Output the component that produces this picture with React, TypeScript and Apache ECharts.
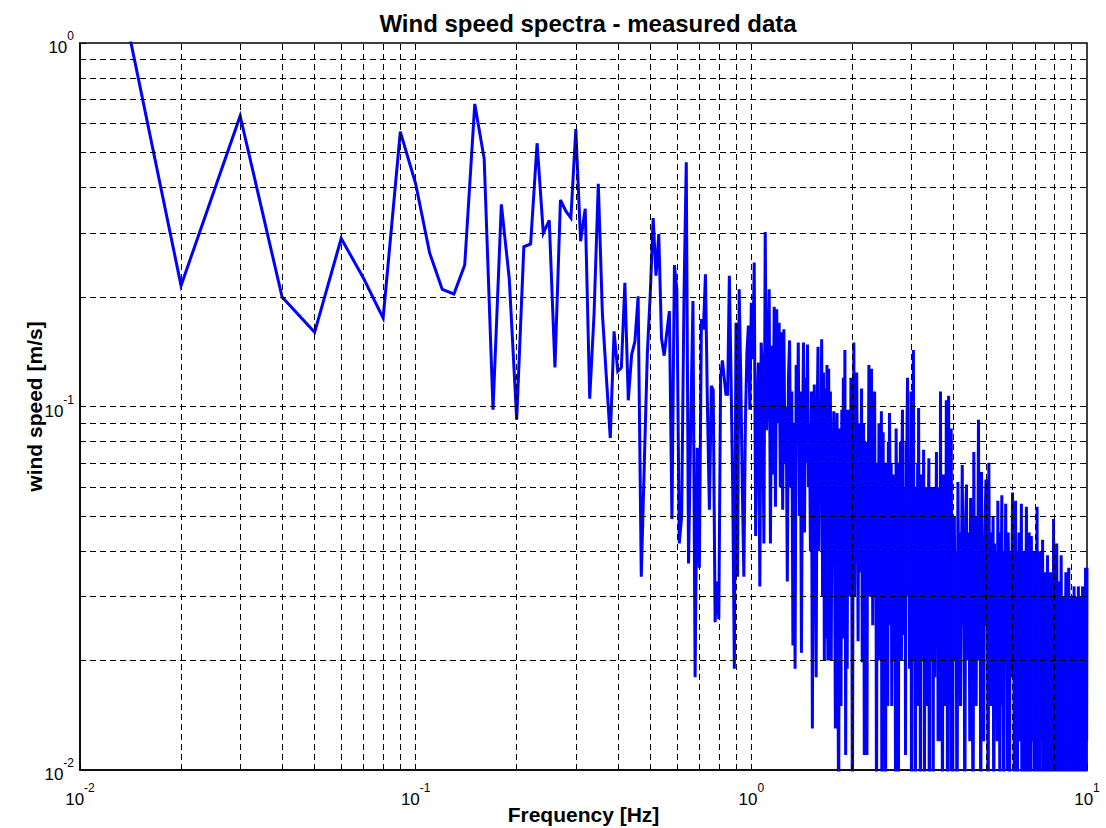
import React, { useEffect, useRef } from "react";
import * as echarts from "echarts";

const titleText = "Wind speed spectra - measured data";
const xName = "Frequency [Hz]";
const yName = "wind speed [m/s]";

// Spectrum bins 0.01 .. 2.00 Hz (step 0.01)
const lowStart = 0.01;
const lowStep = 0.01;
const lowValues = [
  4.8, 0.215, 0.63, 0.2, 0.16, 0.29, 0.225, 0.175, 0.57, 0.41,
  0.265, 0.21, 0.204, 0.245, 0.68, 0.48, 0.098, 0.36, 0.225, 0.092,
  0.275, 0.28, 0.53, 0.3, 0.325, 0.128, 0.37, 0.345, 0.33, 0.58,
  0.285, 0.35, 0.105, 0.18, 0.41, 0.18, 0.12, 0.082, 0.161, 0.125,
  0.128, 0.219, 0.104, 0.139, 0.151, 0.201, 0.034, 0.07, 0.14, 0.205,
  0.33, 0.229, 0.298, 0.154, 0.138, 0.16, 0.183, 0.049, 0.245, 0.209,
  0.042, 0.05, 0.2, 0.47, 0.037, 0.09, 0.195, 0.018, 0.077, 0.036,
  0.174, 0.163, 0.231, 0.1, 0.052, 0.114, 0.111, 0.0255, 0.033, 0.026,
  0.12, 0.134, 0.12, 0.108, 0.108, 0.229, 0.12, 0.06, 0.019, 0.17,
  0.034, 0.21, 0.12, 0.06, 0.034, 0.09, 0.14, 0.167, 0.098, 0.193,
  0.135, 0.249, 0.044, 0.1, 0.132, 0.032, 0.15, 0.12, 0.042, 0.302,
  0.086, 0.13, 0.21, 0.042, 0.147, 0.065, 0.188, 0.053, 0.185, 0.09,
  0.17, 0.06, 0.16, 0.052, 0.163, 0.07, 0.1, 0.033, 0.12, 0.152,
  0.06, 0.11, 0.022, 0.09, 0.019, 0.13, 0.08, 0.15, 0.05, 0.11,
  0.021, 0.08, 0.15, 0.045, 0.12, 0.07, 0.148, 0.06, 0.09, 0.04,
  0.11, 0.013, 0.07, 0.115, 0.05, 0.018, 0.09, 0.146, 0.04, 0.1,
  0.06, 0.153, 0.03, 0.124, 0.02, 0.112, 0.023, 0.13, 0.02, 0.127,
  0.02, 0.11, 0.02, 0.08, 0.06, 0.097, 0.04, 0.013, 0.07, 0.096,
  0.03, 0.006, 0.087, 0.05, 0.015, 0.098, 0.04, 0.12, 0.023, 0.143,
  0.011, 0.08, 0.019, 0.098, 0.05, 0.09, 0.03, 0.12, 0.06, 0.0065,
];

// Spectrum bins 2.01 .. 4.00 Hz (step 0.01)
const midStart = 2.01;
const midStep = 0.01;
const midValues = [
  0.05, 0.15, 0.03, 0.08, 0.04, 0.124, 0.06, 0.0226, 0.09, 0.05,
  0.07, 0.035, 0.112, 0.0198, 0.045, 0.09, 0.011, 0.06, 0.03, 0.08,
  0.011, 0.06, 0.05, 0.13, 0.04, 0.03, 0.07, 0.127, 0.05, 0.025,
  0.08, 0.04, 0.11, 0.03, 0.06, 0.007, 0.07, 0.045, 0.03, 0.09,
  0.02, 0.06, 0.04, 0.097, 0.004, 0.035, 0.085, 0.015, 0.05, 0.04,
  0.005, 0.07, 0.03, 0.05, 0.015, 0.08, 0.04, 0.096, 0.06, 0.025,
  0.07, 0.015, 0.05, 0.035, 0.065, 0.02, 0.055, 0.03, 0.008, 0.087,
  0.05, 0.025, 0.07, 0.004, 0.045, 0.06, 0.03, 0.08, 0.04, 0.02,
  0.07, 0.098, 0.035, 0.0235, 0.06, 0.03, 0.05, 0.011, 0.08, 0.045,
  0.09, 0.12, 0.03, 0.05, 0.07, 0.019, 0.06, 0.04, 0.11, 0.006,
  0.05, 0.03, 0.07, 0.143, 0.035, 0.02, 0.05, 0.004, 0.045, 0.03,
  0.06, 0.025, 0.07, 0.015, 0.099, 0.04, 0.03, 0.06, 0.005, 0.055,
  0.035, 0.065, 0.02, 0.045, 0.03, 0.076, 0.04, 0.008, 0.06, 0.025,
  0.05, 0.03, 0.06, 0.015, 0.045, 0.035, 0.055, 0.072, 0.004, 0.04,
  0.025, 0.05, 0.06, 0.03, 0.045, 0.02, 0.06, 0.004, 0.05, 0.035,
  0.06, 0.018, 0.045, 0.03, 0.05, 0.075, 0.025, 0.035, 0.05, 0.012,
  0.04, 0.06, 0.03, 0.05, 0.012, 0.11, 0.035, 0.06, 0.02, 0.045,
  0.005, 0.04, 0.065, 0.025, 0.05, 0.03, 0.062, 0.015, 0.045, 0.035,
  0.104, 0.02, 0.05, 0.006, 0.04, 0.061, 0.107, 0.045, 0.015, 0.05,
  0.035, 0.056, 0.01, 0.087, 0.04, 0.025, 0.05, 0.004, 0.045, 0.03,
];

// Spectrum bins 4.025 .. 10.0 Hz (step 0.025)
const highStart = 4.025;
const highStep = 0.025;
const highValues = [
  0.05, 0.02, 0.04, 0.005, 0.062, 0.03, 0.045, 0.015, 0.035, 0.069,
  0.025, 0.04, 0.006, 0.05, 0.061, 0.02, 0.035, 0.045, 0.012, 0.056,
  0.03, 0.045, 0.004, 0.075, 0.025, 0.04, 0.015, 0.05, 0.03, 0.092,
  0.02, 0.045, 0.006, 0.066, 0.03, 0.04, 0.012, 0.035, 0.05, 0.063,
  0.025, 0.04, 0.005, 0.07, 0.03, 0.045, 0.015, 0.035, 0.02, 0.05,
  0.006, 0.042, 0.03, 0.02, 0.04, 0.012, 0.055, 0.025, 0.035, 0.008,
  0.045, 0.03, 0.057, 0.015, 0.035, 0.004, 0.04, 0.025, 0.054, 0.02,
  0.035, 0.01, 0.045, 0.025, 0.005, 0.04, 0.03, 0.018, 0.035, 0.058,
  0.02, 0.04, 0.006, 0.035, 0.055, 0.015, 0.03, 0.004, 0.04, 0.025,
  0.045, 0.012, 0.035, 0.025, 0.054, 0.005, 0.03, 0.04, 0.018, 0.035,
  0.008, 0.04, 0.025, 0.053, 0.015, 0.035, 0.004, 0.03, 0.045, 0.02,
  0.035, 0.006, 0.044, 0.025, 0.012, 0.035, 0.02, 0.04, 0.005, 0.03,
  0.015, 0.035, 0.025, 0.053, 0.008, 0.03, 0.02, 0.04, 0.004, 0.035,
  0.025, 0.012, 0.04, 0.02, 0.043, 0.006, 0.03, 0.035, 0.01, 0.025,
  0.035, 0.005, 0.03, 0.018, 0.039, 0.025, 0.008, 0.035, 0.015, 0.03,
  0.004, 0.025, 0.035, 0.012, 0.03, 0.02, 0.006, 0.049, 0.025, 0.01,
  0.035, 0.018, 0.03, 0.005, 0.042, 0.02, 0.012, 0.03, 0.025, 0.004,
  0.033, 0.015, 0.025, 0.008, 0.039, 0.02, 0.03, 0.005, 0.025, 0.012,
  0.03, 0.018, 0.004, 0.028, 0.02, 0.035, 0.007, 0.025, 0.015, 0.03,
  0.01, 0.025, 0.036, 0.005, 0.022, 0.03, 0.012, 0.025, 0.004, 0.028,
  0.018, 0.03, 0.008, 0.025, 0.015, 0.032, 0.005, 0.022, 0.028, 0.01,
  0.025, 0.004, 0.03, 0.018, 0.024, 0.007, 0.032, 0.015, 0.025, 0.005,
  0.022, 0.03, 0.01, 0.025, 0.004, 0.028, 0.018, 0.032, 0.006, 0.024,
  0.015, 0.03, 0.005, 0.025, 0.02, 0.036, 0.008, 0.028, 0.012, 0.036,
];

const xGridLines = [
  0.02, 0.03, 0.04, 0.05, 0.06, 0.07, 0.08, 0.09, 0.1,
  0.2, 0.3, 0.4, 0.5, 0.6, 0.7, 0.8, 0.9, 1,
  2, 3, 4, 5, 6, 7, 8, 9,
];
const yGridLines = [
  0.02, 0.03, 0.04, 0.05, 0.06, 0.07, 0.08, 0.09, 0.1,
  0.2, 0.3, 0.4, 0.5, 0.6, 0.7, 0.8, 0.9,
];

const FONT = "'Liberation Sans', Arial, Helvetica, sans-serif";

function segment(start: number, step: number, vals: number[]) {
  return vals.map((v, i) => [Number((start + i * step).toFixed(4)), v]);
}

const tickRich = {
  base: { fontSize: 17, fontFamily: FONT, color: "#000", lineHeight: 26, verticalAlign: "bottom" },
  sup: { fontSize: 12, fontFamily: FONT, color: "#000", lineHeight: 12, verticalAlign: "top" },
};

function powLabel(v: number) {
  const e = Math.round(Math.log10(v));
  return "{base|10}{sup|" + e + "}";
}

export default function App() {
  const ref = useRef<HTMLDivElement>(null);
  useEffect(() => {
    if (!ref.current) return;
    const chart = echarts.init(ref.current, undefined, { renderer: "svg" });
    const data = [
      ...segment(lowStart, lowStep, lowValues),
      ...segment(midStart, midStep, midValues),
      ...segment(highStart, highStep, highValues),
    ];
    const dash = [6, 4];
    chart.setOption({
      animation: false,
      backgroundColor: "#fff",
      title: {
        text: titleText,
        left: 583,
        textAlign: "center",
        top: 6,
        textStyle: { fontFamily: FONT, fontSize: 24, fontWeight: "bold", color: "#000" },
      },
      grid: {
        left: 80,
        right: 19,
        top: 43,
        bottom: 58,
        outerBoundsMode: "none",
        containLabel: false,
        show: true,
        borderColor: "#000",
        borderWidth: 1.5,
        backgroundColor: "#fff",
      },
      xAxis: {
        type: "log",
        logBase: 10,
        min: 0.01,
        max: 10,
        name: xName,
        nameLocation: "middle",
        nameGap: 34,
        nameMoveOverlap: false,
        nameTextStyle: { fontFamily: FONT, fontSize: 21, fontWeight: "bold", color: "#000" },
        axisLine: { show: true, lineStyle: { color: "#000", width: 1.5 } },
        axisTick: { show: true, inside: true, length: 6, lineStyle: { color: "#000" } },
        splitLine: { show: false },
        axisLabel: {
          margin: 12,
          fontSize: 17,
          fontFamily: FONT,
          color: "#000",
          formatter: powLabel,
          rich: tickRich,
        },
      },
      yAxis: {
        type: "log",
        logBase: 10,
        min: 0.01,
        max: 1,
        name: yName,
        nameLocation: "middle",
        nameGap: 35,
        nameMoveOverlap: false,
        nameRotate: 90,
        nameTextStyle: { fontFamily: FONT, fontSize: 21, fontWeight: "bold", color: "#000" },
        axisLine: { show: true, lineStyle: { color: "#000", width: 1.5 } },
        axisTick: { show: true, inside: true, length: 6, lineStyle: { color: "#000" } },
        splitLine: { show: false },
        axisLabel: {
          margin: 6,
          fontSize: 17,
          fontFamily: FONT,
          color: "#000",
          formatter: powLabel,
          rich: tickRich,
        },
      },
      series: [
        {
          type: "line",
          z: 1,
          silent: true,
          data: [[0.01, 0.01]],
          showSymbol: false,
          lineStyle: { width: 0, opacity: 0 },
          markLine: {
            silent: true,
            symbol: ["none", "none"],
            label: { show: false },
            emphasis: { disabled: true },
            lineStyle: { color: "#000", type: dash, width: 1 },
            data: [
              ...xGridLines.map((v) => ({ xAxis: v })),
              ...yGridLines.map((v) => ({ yAxis: v })),
            ],
          },
        },
        {
          type: "line",
          z: 3,
          data,
          showSymbol: false,
          symbol: "none",
          clip: true,
          lineStyle: { color: "#0000ff", width: 3, join: "miter" },
          emphasis: { disabled: true },
        },
      ],
    });
    return () => chart.dispose();
  }, []);
  return (
    <div
      ref={ref}
      style={{ position: "fixed", left: 0, top: 0, width: 1106, height: 828 }}
    />
  );
}
